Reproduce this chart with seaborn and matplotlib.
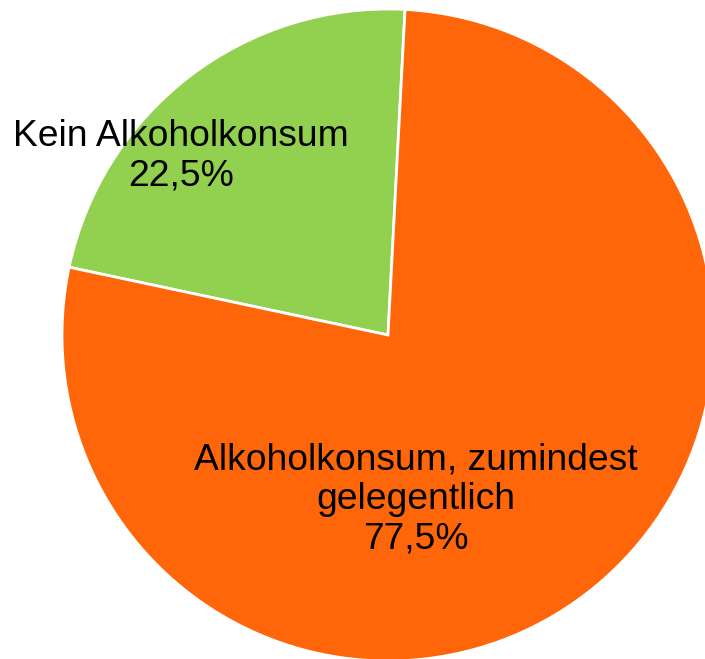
import numpy as np
import matplotlib
matplotlib.use('Agg')
import matplotlib.pyplot as plt
import seaborn as sns

# ------------------------------------------------------------ #
# data
# ------------------------------------------------------------ #

categories = ['Kein Alkoholkonsum', 'Alkoholkonsum, zumindest\ngelegentlich']
shares = [22.5, 77.5]
colors = ['#92D050', '#FF660A']

# label centres (axes data coords, pie radius = 1)
label_pos = [(-0.635, 0.548), (0.085, -0.505)]

# ------------------------------------------------------------ #
# plot
# ------------------------------------------------------------ #

sns.set_style('white')
plt.rcParams['font.family'] = ['Liberation Sans', 'DejaVu Sans']

fig = plt.figure(figsize=(7.05, 6.59), dpi=100)
ax = fig.add_axes([0, 0, 1, 1])

ax.pie(shares, colors=colors, startangle=87, counterclock=True,
       radius=1.0, center=(0, 0), frame=False,
       wedgeprops=dict(edgecolor='white', linewidth=2))

for cat, val, (x, y) in zip(categories, shares, label_pos):
    txt = cat + '\n' + f'{val:.1f}%'.replace('.', ',')
    ax.text(x, y, txt, ha='center', va='center', fontsize=26.8,
            linespacing=1.17, color='black')

# centre at (388, 335) px from top-left, radius 326 px
r = 326.0
ax.set_xlim(-388 / r, (705 - 388) / r)
ax.set_ylim(-(659 - 335) / r, 335 / r)
ax.set_aspect('auto')
ax.axis('off')

fig.savefig('out.png', dpi=100)
